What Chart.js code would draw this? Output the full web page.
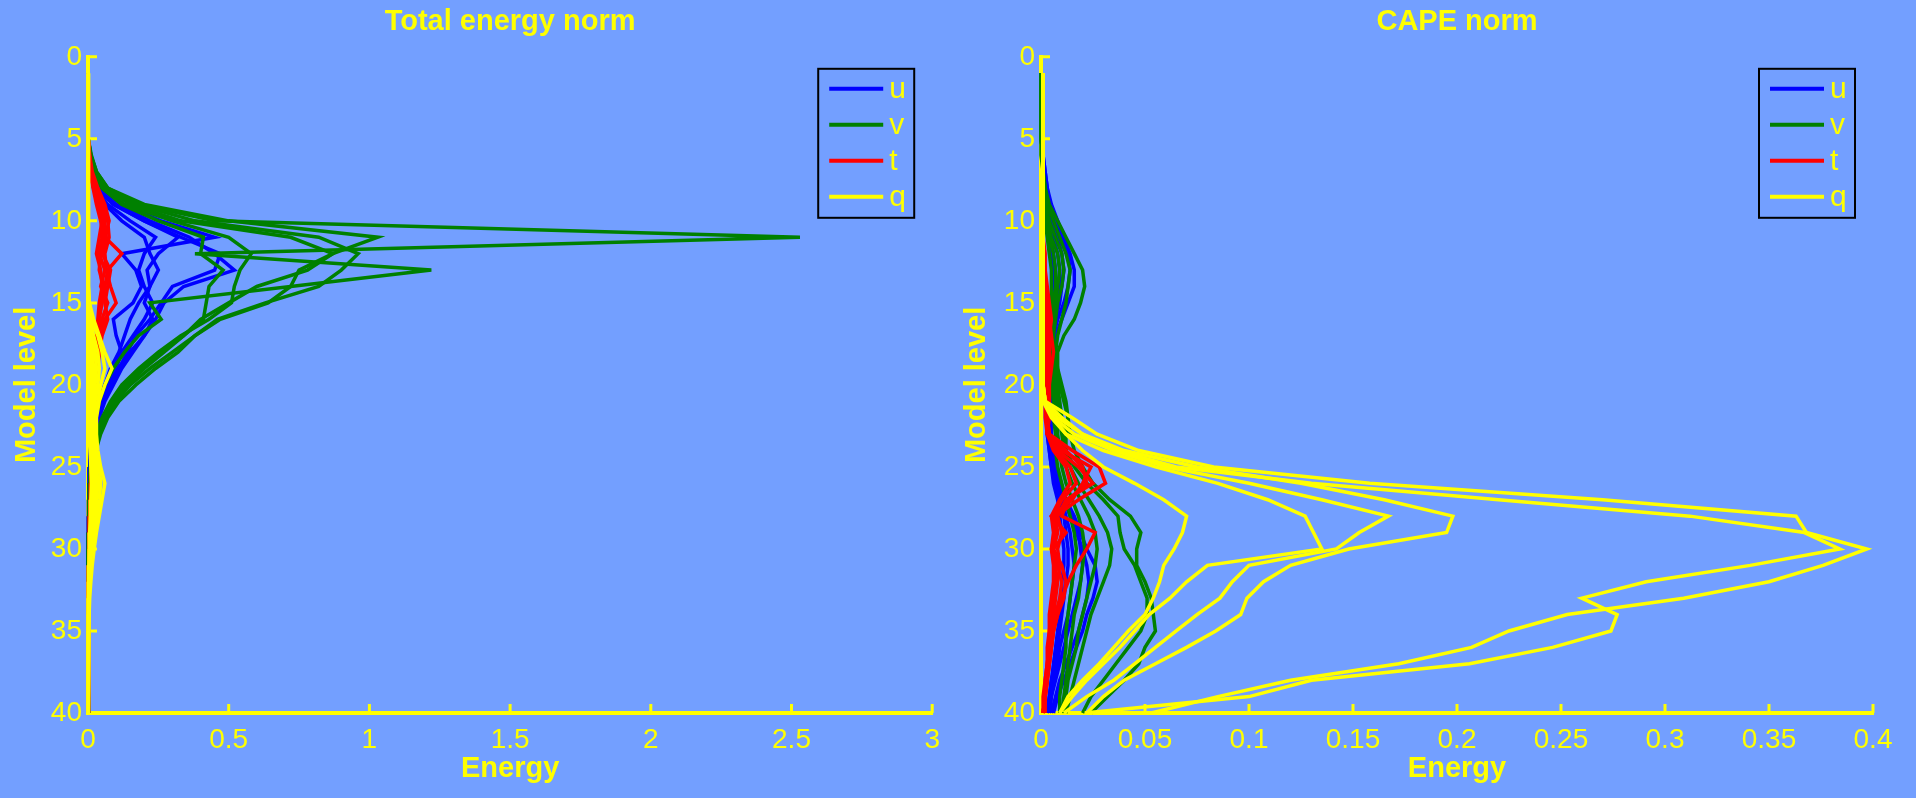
<!DOCTYPE html>
<html>
<head>
<meta charset="utf-8">
<title>Energy norms</title>
<script src="https://cdn.jsdelivr.net/npm/chart.js@4"></script>
<style>
  html, body { margin: 0; padding: 0; background: #739fff; overflow: hidden; }
  #wrap { position: relative; width: 1916px; height: 798px; }
  canvas { position: absolute; top: 0; }
  #teChart { left: 0; }
  #capeChart { left: 950px; }
</style>
</head>
<body>
<div id="wrap">
  <canvas id="teChart" width="950" height="798"></canvas>
  <canvas id="capeChart" width="966" height="798"></canvas>
</div>
<script>
// model levels 1..40
const levels = [1,2,3,4,5,6,7,8,9,10,11,12,13,14,15,16,17,18,19,20,
    21,22,23,24,25,26,27,28,29,30,31,32,33,34,35,36,37,38,39,40];

const legendLabels = ['u', 'v', 't', 'q'];
const yTicks = ['0','5','10','15','20','25','30','35','40'];
const teXTicks = ['0','0.5','1','1.5','2','2.5','3'];
const capeXTicks = ['0','0.05','0.1','0.15','0.2','0.25','0.3','0.35','0.4'];

// Total energy norm, one row per member
const teU = [
    [0,0,0,0,0.002,0.006,0.015,0.04,0.12,0.26,
     0.45,0.12,0.17,0.19,0.16,0.09,0.1,0.12,0.1,0.07,
     0.05,0.03,0.02,0.012,0.008,0.006,0.005,0.004,0.003,0.003,
     0.002,0.002,0.002,0.001,0.001,0.001,0.001,0.001,0.001,0.001],
    [0,0,0,0,0.002,0.005,0.015,0.035,0.1,0.22,
     0.36,0.45,0.52,0.34,0.27,0.24,0.2,0.16,0.12,0.09,
     0.06,0.04,0.025,0.015,0.01,0.007,0.005,0.004,0.003,0.003,
     0.002,0.002,0.002,0.001,0.001,0.001,0.001,0.001,0.001,0.001],
    [0,0,0,0,0.002,0.005,0.012,0.03,0.09,0.2,
     0.33,0.47,0.45,0.3,0.26,0.22,0.17,0.14,0.11,0.08,
     0.055,0.035,0.02,0.012,0.008,0.006,0.005,0.004,0.003,0.002,
     0.002,0.002,0.001,0.001,0.001,0.001,0.001,0.001,0.001,0.001],
    [0,0,0,0,0.001,0.004,0.01,0.03,0.09,0.2,
     0.32,0.25,0.21,0.22,0.2,0.23,0.2,0.15,0.11,0.08,
     0.05,0.03,0.02,0.01,0.007,0.005,0.004,0.003,0.003,0.002,
     0.002,0.002,0.001,0.001,0.001,0.001,0.001,0.001,0.001,0.001],
    [0,0,0,0,0.001,0.003,0.01,0.025,0.07,0.15,
     0.24,0.2,0.18,0.2,0.23,0.2,0.16,0.12,0.09,0.06,
     0.04,0.025,0.015,0.01,0.007,0.005,0.004,0.003,0.002,0.002,
     0.002,0.001,0.001,0.001,0.001,0.001,0.001,0.001,0.001,0.001],
    [0,0,0,0,0.001,0.003,0.008,0.02,0.06,0.12,
     0.2,0.22,0.25,0.22,0.18,0.15,0.13,0.11,0.08,0.06,
     0.04,0.025,0.015,0.008,0.006,0.004,0.003,0.003,0.002,0.002,
     0.001,0.001,0.001,0.001,0.001,0.001,0.001,0.001,0.001,0.001]
];
const teV = [
    [0,0,0,0,0.003,0.012,0.03,0.07,0.18,0.45,
     2.53,0.38,1.22,0.72,0.22,0.26,0.18,0.13,0.09,0.06,
     0.04,0.028,0.018,0.012,0.008,0.006,0.005,0.004,0.003,0.003,
     0.002,0.002,0.002,0.001,0.001,0.001,0.001,0.001,0.001,0.001],
    [0,0,0,0,0.003,0.01,0.03,0.07,0.2,0.5,
     1.03,0.87,0.75,0.72,0.64,0.47,0.38,0.3,0.22,0.15,
     0.1,0.06,0.04,0.025,0.015,0.01,0.007,0.005,0.004,0.003,
     0.003,0.002,0.002,0.002,0.001,0.001,0.001,0.001,0.001,0.001],
    [0,0,0,0,0.003,0.01,0.028,0.065,0.17,0.38,
     0.82,0.96,0.9,0.82,0.63,0.46,0.38,0.32,0.24,0.17,
     0.11,0.07,0.045,0.028,0.018,0.012,0.008,0.006,0.005,0.004,
     0.003,0.003,0.002,0.002,0.001,0.001,0.001,0.001,0.001,0.001],
    [0,0,0,0,0.002,0.008,0.025,0.06,0.15,0.33,
     0.72,0.87,0.78,0.6,0.5,0.4,0.34,0.27,0.2,0.14,
     0.09,0.055,0.035,0.02,0.013,0.009,0.006,0.005,0.004,0.003,
     0.002,0.002,0.002,0.001,0.001,0.001,0.001,0.001,0.001,0.001],
    [0,0,0,0,0.002,0.006,0.02,0.05,0.12,0.25,
     0.41,0.4,0.48,0.43,0.42,0.41,0.34,0.26,0.19,0.13,
     0.09,0.055,0.035,0.02,0.012,0.008,0.006,0.004,0.003,0.003,
     0.002,0.002,0.001,0.001,0.001,0.001,0.001,0.001,0.001,0.001],
    [0,0,0,0,0.002,0.006,0.02,0.05,0.13,0.3,
     0.5,0.58,0.54,0.52,0.51,0.43,0.33,0.25,0.18,0.12,
     0.08,0.05,0.03,0.018,0.01,0.007,0.005,0.004,0.003,0.002,
     0.002,0.002,0.001,0.001,0.001,0.001,0.001,0.001,0.001,0.001]
];
const teT = [
    [0,0,0,0.001,0.002,0.006,0.015,0.035,0.06,0.075,
     0.06,0.12,0.07,0.06,0.05,0.04,0.035,0.03,0.03,0.025,
     0.022,0.02,0.02,0.018,0.016,0.014,0.012,0.01,0.008,0.006,
     0.004,0.003,0.002,0.002,0.001,0.001,0.001,0.001,0.001,0.001],
    [0,0,0,0.001,0.002,0.005,0.012,0.03,0.05,0.07,
     0.075,0.06,0.065,0.08,0.1,0.06,0.045,0.04,0.035,0.03,
     0.026,0.022,0.02,0.018,0.016,0.014,0.012,0.01,0.008,0.006,
     0.004,0.003,0.002,0.002,0.001,0.001,0.001,0.001,0.001,0.001],
    [0,0,0,0.001,0.002,0.005,0.01,0.025,0.045,0.06,
     0.05,0.04,0.06,0.045,0.07,0.05,0.04,0.035,0.03,0.028,
     0.024,0.02,0.018,0.016,0.014,0.012,0.01,0.008,0.006,0.005,
     0.004,0.003,0.002,0.001,0.001,0.001,0.001,0.001,0.001,0.001],
    [0,0,0,0.001,0.002,0.004,0.01,0.02,0.04,0.055,
     0.065,0.05,0.08,0.07,0.06,0.07,0.05,0.04,0.032,0.028,
     0.024,0.02,0.018,0.016,0.014,0.012,0.01,0.008,0.006,0.005,
     0.004,0.003,0.002,0.002,0.001,0.001,0.001,0.001,0.001,0.001],
    [0,0,0,0,0.001,0.003,0.008,0.02,0.035,0.05,
     0.04,0.03,0.045,0.05,0.04,0.035,0.03,0.028,0.025,0.022,
     0.02,0.018,0.016,0.015,0.013,0.011,0.009,0.007,0.005,0.004,
     0.003,0.002,0.002,0.001,0.001,0.001,0.001,0.001,0.001,0.001],
    [0,0,0,0,0.001,0.003,0.008,0.018,0.03,0.045,
     0.055,0.045,0.04,0.055,0.045,0.04,0.035,0.03,0.025,0.02,
     0.018,0.016,0.015,0.014,0.012,0.01,0.008,0.006,0.005,0.004,
     0.003,0.002,0.002,0.001,0.001,0.001,0.001,0.001,0.001,0.001]
];
const teQ = [
    [0.001,0.001,0.001,0.001,0.001,0.001,0.001,0.001,0.001,0.001,
     0.001,0.001,0.002,0.003,0.005,0.02,0.04,0.06,0.085,0.06,
     0.04,0.03,0.03,0.035,0.045,0.06,0.05,0.04,0.03,0.022,
     0.015,0.01,0.006,0.004,0.002,0.002,0.001,0.001,0.001,0.001],
    [0.001,0.001,0.001,0.001,0.001,0.001,0.001,0.001,0.001,0.001,
     0.001,0.001,0.002,0.003,0.005,0.01,0.035,0.05,0.06,0.045,
     0.035,0.025,0.025,0.03,0.04,0.045,0.04,0.03,0.022,0.016,
     0.01,0.006,0.004,0.002,0.002,0.001,0.001,0.001,0.001,0.001],
    [0.001,0.001,0.001,0.001,0.001,0.001,0.001,0.001,0.001,0.001,
     0.001,0.001,0.001,0.002,0.003,0.005,0.02,0.035,0.04,0.035,
     0.025,0.02,0.02,0.025,0.03,0.035,0.03,0.025,0.018,0.012,
     0.008,0.005,0.003,0.002,0.001,0.001,0.001,0.001,0.001,0.001],
    [0.001,0.001,0.001,0.001,0.001,0.001,0.001,0.001,0.001,0.001,
     0.001,0.001,0.001,0.002,0.002,0.004,0.012,0.025,0.03,0.025,
     0.02,0.015,0.015,0.018,0.022,0.025,0.022,0.018,0.013,0.009,
     0.006,0.004,0.002,0.002,0.001,0.001,0.001,0.001,0.001,0.001],
    [0.001,0.001,0.001,0.001,0.001,0.001,0.001,0.001,0.001,0.001,
     0.001,0.001,0.001,0.001,0.002,0.003,0.008,0.015,0.02,0.018,
     0.014,0.011,0.011,0.013,0.016,0.018,0.016,0.013,0.01,0.007,
     0.005,0.003,0.002,0.001,0.001,0.001,0.001,0.001,0.001,0.001],
    [0.001,0.001,0.001,0.001,0.001,0.001,0.001,0.001,0.001,0.001,
     0.001,0.001,0.001,0.001,0.001,0.002,0.005,0.01,0.012,0.01,
     0.008,0.007,0.007,0.008,0.01,0.012,0.01,0.008,0.006,0.004,
     0.003,0.002,0.001,0.001,0.001,0.001,0.001,0.001,0.001,0.001]
];

// CAPE norm, one row per member
const capeU = [
    [0,0,0,0.001,0.001,0.001,0.002,0.003,0.005,0.008,
     0.011,0.014,0.016,0.016,0.013,0.01,0.007,0.006,0.005,0.005,
     0.005,0.005,0.005,0.006,0.007,0.009,0.012,0.016,0.019,0.022,
     0.026,0.027,0.025,0.022,0.02,0.017,0.014,0.011,0.008,0.006],
    [0,0,0,0.001,0.001,0.001,0.002,0.003,0.004,0.007,
     0.01,0.013,0.014,0.013,0.011,0.008,0.006,0.005,0.005,0.004,
     0.004,0.004,0.005,0.005,0.006,0.008,0.011,0.014,0.017,0.02,
     0.022,0.023,0.022,0.02,0.018,0.015,0.012,0.009,0.007,0.005],
    [0,0,0,0.001,0.001,0.001,0.001,0.002,0.003,0.005,
     0.008,0.01,0.011,0.01,0.009,0.007,0.005,0.004,0.004,0.004,
     0.004,0.004,0.004,0.005,0.007,0.009,0.012,0.015,0.018,0.019,
     0.02,0.019,0.017,0.015,0.013,0.011,0.009,0.007,0.005,0.004],
    [0,0,0,0,0.001,0.001,0.001,0.002,0.003,0.004,
     0.006,0.008,0.009,0.009,0.007,0.006,0.005,0.004,0.003,0.003,
     0.003,0.003,0.004,0.005,0.006,0.008,0.01,0.012,0.014,0.015,
     0.016,0.015,0.014,0.013,0.011,0.009,0.008,0.006,0.005,0.004],
    [0,0,0,0,0.001,0.001,0.001,0.001,0.002,0.003,
     0.005,0.006,0.007,0.007,0.006,0.005,0.004,0.003,0.003,0.003,
     0.003,0.003,0.003,0.004,0.005,0.007,0.009,0.011,0.012,0.013,
     0.013,0.012,0.011,0.01,0.009,0.008,0.007,0.005,0.004,0.003],
    [0,0,0,0,0,0.001,0.001,0.001,0.002,0.003,
     0.004,0.005,0.006,0.006,0.005,0.004,0.003,0.003,0.002,0.002,
     0.002,0.003,0.003,0.004,0.005,0.006,0.008,0.009,0.01,0.011,
     0.011,0.01,0.01,0.009,0.008,0.007,0.006,0.005,0.004,0.003]
];
const capeV = [
    [0,0,0,0.001,0.001,0.001,0.001,0.002,0.004,0.008,
     0.012,0.016,0.02,0.021,0.019,0.016,0.011,0.008,0.008,0.009,
     0.011,0.013,0.014,0.016,0.02,0.025,0.033,0.043,0.048,0.046,
     0.046,0.05,0.053,0.054,0.055,0.05,0.047,0.04,0.032,0.024],
    [0,0,0,0,0.001,0.001,0.001,0.002,0.003,0.006,
     0.009,0.012,0.014,0.013,0.012,0.01,0.008,0.007,0.008,0.01,
     0.012,0.013,0.012,0.012,0.016,0.022,0.03,0.037,0.038,0.04,
     0.045,0.048,0.051,0.051,0.048,0.042,0.036,0.03,0.024,0.02],
    [0,0,0,0,0.001,0.001,0.001,0.001,0.002,0.004,
     0.007,0.01,0.011,0.01,0.008,0.007,0.006,0.006,0.007,0.008,
     0.009,0.01,0.011,0.012,0.014,0.018,0.023,0.028,0.032,0.034,
     0.033,0.03,0.027,0.024,0.022,0.02,0.018,0.016,0.014,0.012],
    [0,0,0,0,0,0.001,0.001,0.001,0.002,0.003,
     0.005,0.008,0.009,0.008,0.007,0.006,0.005,0.005,0.006,0.007,
     0.008,0.009,0.01,0.011,0.012,0.015,0.019,0.023,0.026,0.027,
     0.026,0.024,0.022,0.02,0.018,0.017,0.015,0.013,0.012,0.011],
    [0,0,0,0,0,0.001,0.001,0.001,0.001,0.002,
     0.004,0.006,0.007,0.007,0.006,0.005,0.004,0.004,0.005,0.006,
     0.007,0.008,0.008,0.009,0.01,0.012,0.015,0.018,0.02,0.021,
     0.02,0.019,0.018,0.016,0.015,0.014,0.013,0.012,0.011,0.01],
    [0,0,0,0,0,0,0.001,0.001,0.001,0.002,
     0.003,0.004,0.005,0.005,0.005,0.004,0.004,0.004,0.004,0.005,
     0.006,0.006,0.007,0.007,0.008,0.01,0.012,0.014,0.016,0.017,
     0.016,0.015,0.014,0.013,0.012,0.012,0.011,0.01,0.009,0.009]
];
const capeT = [
    [0.001,0.001,0.001,0.001,0.001,0.001,0.001,0.001,0.001,0.001,
     0.001,0.001,0.002,0.002,0.003,0.003,0.004,0.003,0.003,0.003,
     0.003,0.003,0.004,0.015,0.028,0.031,0.018,0.007,0.008,0.006,
     0.008,0.01,0.009,0.007,0.006,0.005,0.004,0.003,0.002,0.001],
    [0.001,0.001,0.001,0.001,0.001,0.001,0.001,0.001,0.001,0.001,
     0.001,0.002,0.002,0.003,0.004,0.005,0.004,0.004,0.003,0.004,
     0.004,0.004,0.003,0.012,0.02,0.022,0.013,0.01,0.026,0.022,
     0.017,0.013,0.01,0.008,0.006,0.005,0.004,0.003,0.002,0.002],
    [0.001,0.001,0.001,0.001,0.001,0.001,0.001,0.001,0.001,0.001,
     0.001,0.001,0.002,0.002,0.003,0.004,0.005,0.006,0.005,0.004,
     0.004,0.003,0.003,0.01,0.024,0.02,0.015,0.005,0.012,0.006,
     0.01,0.012,0.011,0.008,0.006,0.005,0.004,0.003,0.002,0.001],
    [0.001,0.001,0.001,0.001,0.001,0.001,0.001,0.001,0.001,0.001,
     0.001,0.001,0.001,0.002,0.002,0.003,0.003,0.004,0.004,0.003,
     0.003,0.003,0.004,0.008,0.018,0.025,0.012,0.008,0.01,0.008,
     0.009,0.008,0.007,0.006,0.005,0.004,0.003,0.003,0.002,0.001],
    [0.001,0.001,0.001,0.001,0.001,0.001,0.001,0.001,0.001,0.001,
     0.001,0.001,0.001,0.001,0.002,0.002,0.003,0.003,0.003,0.003,
     0.003,0.003,0.003,0.007,0.014,0.017,0.01,0.006,0.007,0.005,
     0.007,0.007,0.006,0.005,0.004,0.004,0.003,0.002,0.002,0.001],
    [0.001,0.001,0.001,0.001,0.001,0.001,0.001,0.001,0.001,0.001,
     0.001,0.001,0.001,0.001,0.001,0.002,0.002,0.002,0.002,0.002,
     0.002,0.002,0.003,0.006,0.012,0.014,0.009,0.005,0.006,0.005,
     0.006,0.006,0.005,0.004,0.004,0.003,0.003,0.002,0.001,0.001]
];
const capeQ = [
    [0.001,0.001,0.001,0.001,0.001,0.001,0.001,0.001,0.001,0.001,
     0.001,0.001,0.001,0.001,0.001,0.001,0.001,0.001,0.001,0.001,
     0.002,0.015,0.027,0.047,0.083,0.158,0.27,0.363,0.368,0.397,
     0.376,0.35,0.309,0.253,0.225,0.207,0.172,0.12,0.085,0.053],
    [0.001,0.001,0.001,0.001,0.001,0.001,0.001,0.001,0.001,0.001,
     0.001,0.001,0.001,0.001,0.001,0.001,0.001,0.001,0.001,0.001,
     0.002,0.01,0.02,0.036,0.065,0.13,0.22,0.312,0.367,0.384,
     0.341,0.291,0.26,0.277,0.274,0.246,0.206,0.13,0.1,0.021],
    [0.001,0.001,0.001,0.001,0.001,0.001,0.001,0.001,0.001,0.001,
     0.001,0.001,0.001,0.001,0.001,0.001,0.001,0.001,0.001,0.001,
     0.001,0.008,0.02,0.04,0.075,0.125,0.165,0.198,0.195,0.148,
     0.12,0.107,0.099,0.096,0.084,0.07,0.055,0.04,0.03,0.022],
    [0.001,0.001,0.001,0.001,0.001,0.001,0.001,0.001,0.001,0.001,
     0.001,0.001,0.001,0.001,0.001,0.001,0.001,0.001,0.001,0.001,
     0.002,0.006,0.016,0.035,0.06,0.1,0.135,0.167,0.153,0.142,
     0.1,0.092,0.086,0.075,0.065,0.055,0.045,0.035,0.022,0.011],
    [0.001,0.001,0.001,0.001,0.001,0.001,0.001,0.001,0.001,0.001,
     0.001,0.001,0.001,0.001,0.001,0.001,0.001,0.001,0.001,0.001,
     0.001,0.005,0.012,0.03,0.055,0.085,0.109,0.127,0.131,0.135,
     0.08,0.07,0.062,0.052,0.045,0.038,0.03,0.022,0.015,0.009],
    [0.001,0.001,0.001,0.001,0.001,0.001,0.001,0.001,0.001,0.001,
     0.001,0.001,0.001,0.001,0.001,0.001,0.001,0.001,0.001,0.001,
     0.002,0.006,0.012,0.02,0.03,0.045,0.059,0.07,0.068,0.064,
     0.059,0.057,0.054,0.05,0.042,0.035,0.028,0.02,0.013,0.009]
];

const yellow = '#ffff00';
const lineColors = ['#0000ff', '#008000', '#ff0000', '#ffff00'];

Chart.defaults.font.family = '"Liberation Sans", Arial, Helvetica, sans-serif';
Chart.defaults.color = yellow;

function profile(values) {
    return levels.map((lv, i) => ({ x: values[i], y: lv }));
}

// first dataset is drawn on top, so q goes first and u last
function buildDatasets(u, v, t, q) {
    const groups = [[q, 3], [t, 2], [v, 1], [u, 0]];
    const out = [];
    groups.forEach(([rows, k]) => {
        rows.forEach(r => {
            out.push({
                label: legendLabels[k],
                data: profile(r),
                borderColor: lineColors[k],
                backgroundColor: lineColors[k],
                borderWidth: 3.5,
                pointRadius: 0,
                showLine: true,
                tension: 0,
                clip: false
            });
        });
    });
    return out;
}

// tick marks pointing into the plot, like the original axes
const inwardTicks = {
    id: 'inwardTicks',
    beforeDatasetsDraw(chart) {
        const { ctx, chartArea, scales } = chart;
        ctx.save();
        ctx.strokeStyle = yellow;
        ctx.lineWidth = 3;
        ctx.beginPath();
        scales.x.ticks.forEach(t => {
            const px = scales.x.getPixelForValue(t.value);
            ctx.moveTo(px, chartArea.bottom);
            ctx.lineTo(px, chartArea.bottom - 9);
        });
        scales.y.ticks.forEach(t => {
            const py = scales.y.getPixelForValue(t.value);
            ctx.moveTo(chartArea.left, py);
            ctx.lineTo(chartArea.left + 9, py);
        });
        ctx.stroke();
        ctx.restore();
    }
};

// boxed legend in the upper right corner of the axes
const boxLegend = {
    id: 'boxLegend',
    afterDraw(chart) {
        const { ctx, chartArea } = chart;
        const w = 96, h = 149;
        const x0 = chartArea.right - 18 - w;
        const y0 = chartArea.top + 12;
        ctx.save();
        ctx.strokeStyle = '#000000';
        ctx.lineWidth = 2;
        ctx.strokeRect(x0, y0, w, h);
        ctx.font = '30px "Liberation Sans", Arial, sans-serif';
        ctx.textBaseline = 'middle';
        legendLabels.forEach((lab, i) => {
            const y = y0 + 20 + i * 36;
            ctx.strokeStyle = lineColors[i];
            ctx.lineWidth = 4;
            ctx.beginPath();
            ctx.moveTo(x0 + 11, y);
            ctx.lineTo(x0 + 65, y);
            ctx.stroke();
            ctx.fillStyle = yellow;
            ctx.fillText(lab, x0 + 71, y + 1);
        });
        ctx.restore();
    }
};

function makeChart(id, title, datasets, xMax, xStep, xLabels, yWidth, padRight) {
    return new Chart(document.getElementById(id), {
        type: 'scatter',
        data: { datasets: datasets },
        options: {
            responsive: false,
            animation: false,
            layout: { padding: { left: 0, right: padRight, top: 0, bottom: 0 } },
            plugins: {
                legend: { display: false },
                tooltip: { enabled: false },
                title: {
                    display: true,
                    text: title,
                    color: yellow,
                    fullSize: false,
                    font: { size: 29, weight: 'bold' },
                    padding: { top: 5, bottom: 17 }
                }
            },
            scales: {
                x: {
                    type: 'linear',
                    position: 'bottom',
                    min: 0,
                    max: xMax,
                    grid: { display: false, drawTicks: false },
                    border: { color: yellow, width: 4 },
                    ticks: {
                        stepSize: xStep,
                        color: yellow,
                        autoSkip: false,
                        maxRotation: 0,
                        padding: 10,
                        font: { size: 28 },
                        callback: val => xLabels[Math.round(val / xStep)]
                    },
                    title: {
                        display: true,
                        text: 'Energy',
                        color: yellow,
                        font: { size: 29, weight: 'bold' },
                        padding: { top: 0, bottom: 12 }
                    },
                    afterFit: s => { s.height = 85; }
                },
                y: {
                    type: 'linear',
                    reverse: true,
                    min: 0,
                    max: 40,
                    grid: { display: false, drawTicks: false },
                    border: { color: yellow, width: 4 },
                    ticks: {
                        stepSize: 5,
                        color: yellow,
                        autoSkip: false,
                        padding: 6,
                        font: { size: 28 },
                        callback: val => yTicks[Math.round(val / 5)]
                    },
                    title: {
                        display: true,
                        text: 'Model level',
                        color: yellow,
                        font: { size: 29, weight: 'bold' },
                        padding: { top: 10, bottom: 0 }
                    },
                    afterFit: s => { s.width = yWidth; }
                }
            }
        },
        plugins: [inwardTicks, boxLegend]
    });
}

makeChart('teChart', 'Total energy norm', buildDatasets(teU, teV, teT, teQ),
    3, 0.5, teXTicks, 88, 14);
makeChart('capeChart', 'CAPE norm', buildDatasets(capeU, capeV, capeT, capeQ),
    0.4, 0.05, capeXTicks, 91, 43);
</script>
</body>
</html>
